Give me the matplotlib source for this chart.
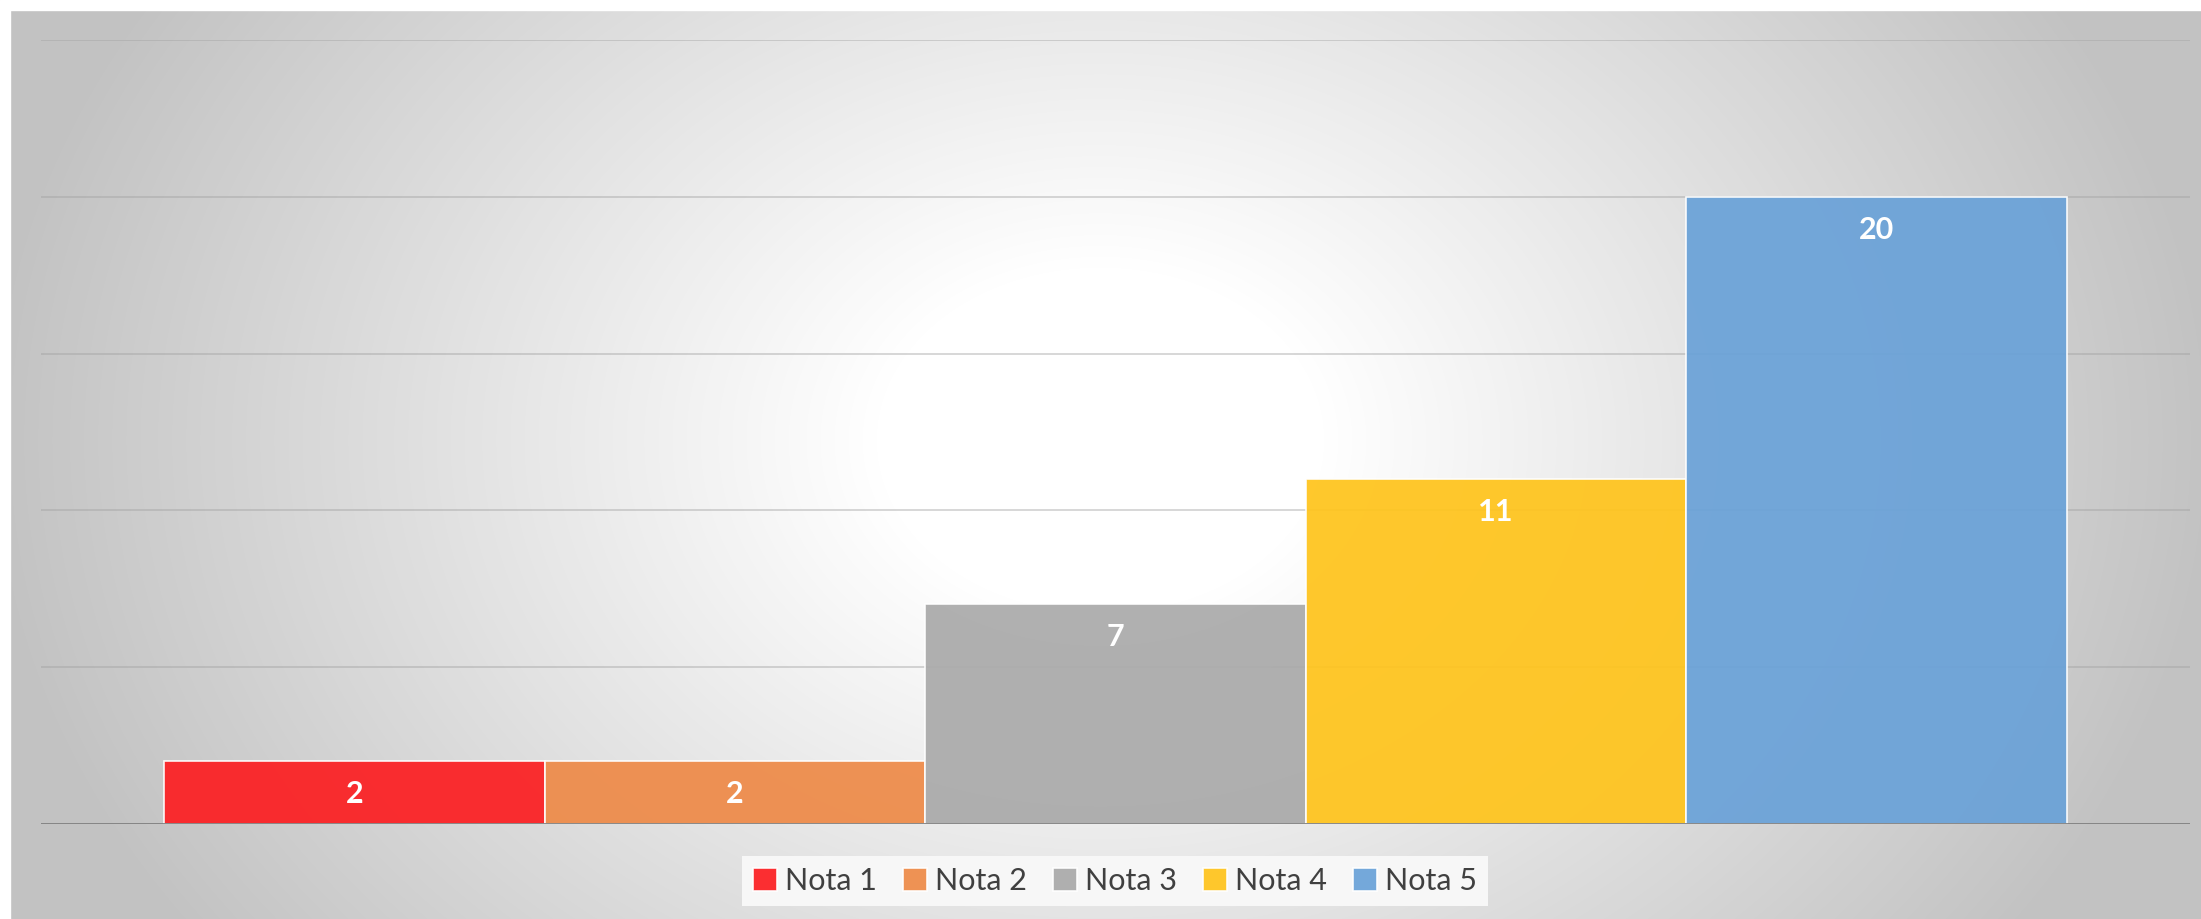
import numpy as np
import matplotlib.pyplot as plt
from matplotlib.colors import LinearSegmentedColormap
from matplotlib.patches import Rectangle

# data
series = ["Nota 1", "Nota 2", "Nota 3", "Nota 4", "Nota 5"]
values = [2, 2, 7, 11, 20]
colors = ["#fc1f22", "#ee8a48", "#aaaaaa", "#ffc41c", "#6aa2d8"]
yticks = [0, 5, 10, 15, 20, 25]

W, H = 2201, 919
fig = plt.figure(figsize=(W / 100, H / 100), dpi=100)
fig.patch.set_facecolor("white")

# radial gradient background of the chart area
bg = fig.add_axes([0, 0, 1, 1], zorder=0)
bg.set_axis_off()
xx, yy = np.meshgrid(np.arange(W), np.arange(H))
u = (xx - 1100) / 1100
v = (yy - 440) / 850
r = np.sqrt(u ** 2 + v ** 2)
shade = np.clip((r - 0.2) / 0.82, 0, 1)
cmap = LinearSegmentedColormap.from_list("bg", ["#ffffff", "#c2c2c2"])
bg.imshow(shade, cmap=cmap, vmin=0, vmax=1, extent=(0, W, H, 0), aspect="auto")
bg.add_patch(Rectangle((0, 0), 10, H, color="white", zorder=2))
bg.add_patch(Rectangle((0, 0), W, 10, color="white", zorder=2))
bg.set_xlim(0, W)
bg.set_ylim(H, 0)

# plot area
left, right, top, bottom = 41, 2190, 40, 824
ax = fig.add_axes([left / W, 1 - bottom / H, (right - left) / W, (bottom - top) / H], zorder=1)
ax.patch.set_alpha(0)

x = np.arange(len(values))
bars = ax.bar(x, values, width=1.0, color=colors, alpha=0.93,
              edgecolor=(1, 1, 1, 0.5), linewidth=1.2, zorder=2)

for yv in yticks[1:]:
    ax.axhline(yv, color="#a0a0a0", alpha=0.45, lw=1.3, zorder=1)
ax.axhline(0, color="#7f7f7f", lw=2, zorder=3)

ax.set_xlim(-0.5 - 123 / 380.4, len(values) - 0.5 + 123 / 380.4)
ax.set_ylim(0, 25)
ax.set_xticks([])
ax.set_yticks([])
for s in ax.spines.values():
    s.set_visible(False)

# data labels
for b, val in zip(bars, values):
    ax.annotate(str(val), (b.get_x() + b.get_width() / 2, val),
                xytext=(0, -33), textcoords="offset pixels",
                ha="center", va="center", color="white",
                fontsize=22, fontweight="bold", family="Lato", zorder=4)

# legend
leg = fig.legend(handles=bars, labels=series, loc="center",
                 bbox_to_anchor=(1115 / W, 1 - 881 / H), ncol=5,
                 frameon=True, fancybox=False, handlelength=0.8, handleheight=0.8,
                 handletextpad=0.25, columnspacing=0.85, borderpad=0.35,
                 prop={"family": "Lato", "size": 22})
leg.get_frame().set_facecolor("#f7f7f7")
leg.get_frame().set_edgecolor("none")
leg.get_frame().set_alpha(1)
for t in leg.get_texts():
    t.set_color("#404040")

fig.savefig("out.png", dpi=100)
